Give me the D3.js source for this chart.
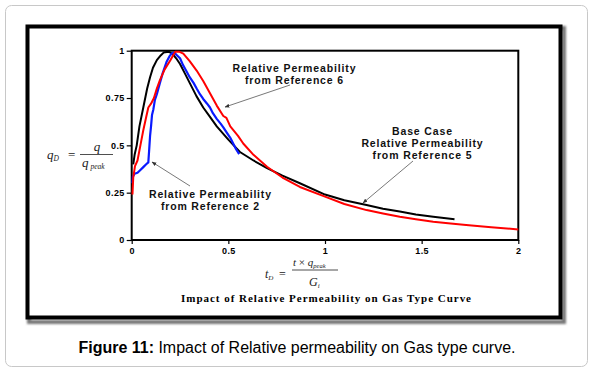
<!DOCTYPE html>
<html>
<head>
<meta charset="utf-8">
<script src="https://cdn.jsdelivr.net/npm/d3@7"></script>
<style>
  body { margin: 0; background: #fff; }
</style>
</head>
<body>
<svg width="594" height="371"></svg>
<script>
// data: (tD, qD) pairs
const baseT = [0.008, 0.015, 0.026, 0.04, 0.06, 0.08, 0.095, 0.11, 0.13, 0.15, 0.165, 0.19, 0.21, 0.23, 0.25, 0.275, 0.3, 0.335, 0.37, 0.405, 0.44, 0.5, 0.56, 0.63, 0.7, 0.78, 0.87, 1.0, 1.1, 1.215, 1.3, 1.387, 1.47, 1.56, 1.67];
const baseQ = [0.40, 0.45, 0.50, 0.60, 0.70, 0.80, 0.86, 0.91, 0.95, 0.975, 0.99, 0.995, 0.985, 0.96, 0.93, 0.88, 0.83, 0.76, 0.70, 0.65, 0.60, 0.53, 0.465, 0.42, 0.38, 0.34, 0.30, 0.24, 0.21, 0.185, 0.165, 0.15, 0.135, 0.123, 0.109];

const ref6T = [0.004, 0.008, 0.017, 0.03, 0.045, 0.06, 0.075, 0.086, 0.1, 0.115, 0.13, 0.146, 0.17, 0.2, 0.225, 0.245, 0.267, 0.3, 0.336, 0.37, 0.405, 0.44, 0.474, 0.49, 0.51, 0.55, 0.577, 0.63, 0.7, 0.78, 0.87, 1.0, 1.1, 1.215, 1.3, 1.387, 1.47, 1.56, 1.65, 1.73, 1.86, 2.0];
const ref6Q = [0.24, 0.33, 0.39, 0.42, 0.50, 0.58, 0.65, 0.70, 0.72, 0.75, 0.80, 0.845, 0.90, 0.95, 0.995, 0.995, 0.985, 0.945, 0.895, 0.84, 0.775, 0.71, 0.655, 0.645, 0.60, 0.55, 0.51, 0.45, 0.387, 0.33, 0.28, 0.229, 0.19, 0.158, 0.14, 0.123, 0.11, 0.097, 0.087, 0.079, 0.067, 0.056];

const ref2T = [0.004, 0.006, 0.015, 0.03, 0.045, 0.06, 0.075, 0.086, 0.09, 0.095, 0.1, 0.105, 0.112, 0.12, 0.13, 0.146, 0.16, 0.18, 0.195, 0.207, 0.22, 0.235, 0.25, 0.265, 0.284, 0.3, 0.32, 0.336, 0.353, 0.37, 0.39, 0.405, 0.42, 0.44, 0.46, 0.474, 0.49, 0.51, 0.525, 0.54, 0.556];
const ref2Q = [0.30, 0.335, 0.35, 0.355, 0.37, 0.385, 0.40, 0.41, 0.47, 0.55, 0.60, 0.66, 0.69, 0.74, 0.77, 0.83, 0.88, 0.94, 0.97, 0.985, 0.99, 0.975, 0.96, 0.925, 0.89, 0.86, 0.83, 0.80, 0.77, 0.745, 0.72, 0.70, 0.67, 0.64, 0.615, 0.595, 0.57, 0.54, 0.51, 0.48, 0.454];

const xTicks = [0, 0.5, 1, 1.5, 2];
const xTickLabels = ["0", "0.5", "1", "1.5", "2"];
const yTicks = [0, 0.25, 0.5, 0.75, 1];
const yTickLabels = ["0", "0.25", "0.5", "0.75", "1"];

const svg = d3.select("svg").attr("font-family", "Arial, 'Liberation Sans', sans-serif");

// outer card
svg.append("rect")
  .attr("x", 5.5).attr("y", 5.5)
  .attr("width", 582).attr("height", 361)
  .attr("rx", 6)
  .attr("fill", "#fff")
  .attr("stroke", "#c8c8c8");

// framed picture with shadow
const defs = svg.append("defs");
defs.append("filter").attr("id", "blur")
  .append("feGaussianBlur").attr("stdDeviation", 1.2);

svg.append("rect")
  .attr("x", 29).attr("y", 28)
  .attr("width", 535).attr("height", 294)
  .attr("fill", "none")
  .attr("stroke", "#777")
  .attr("stroke-width", 4)
  .attr("filter", "url(#blur)");

svg.append("rect")
  .attr("x", 27.5).attr("y", 26.5)
  .attr("width", 533).attr("height", 291)
  .attr("fill", "#fff")
  .attr("stroke", "#000")
  .attr("stroke-width", 4);

// plot area
const plotLeft = 131.7, plotRight = 518.3, plotTop = 50.7, plotBottom = 240;

const x = d3.scaleLinear().domain([0, 2]).range([plotLeft, plotRight]);
const y = d3.scaleLinear().domain([0, 1]).range([plotBottom, plotTop]);

const yAxis = svg.append("g")
  .attr("transform", `translate(${plotLeft},0)`)
  .call(d3.axisLeft(y).tickValues(yTicks).tickSize(5).tickPadding(2)
    .tickFormat((d, i) => yTickLabels[i]));
yAxis.select(".domain").remove();

const xAxis = svg.append("g")
  .attr("transform", `translate(0,${plotBottom})`)
  .call(d3.axisBottom(x).tickValues(xTicks).tickSize(4).tickPadding(4)
    .tickFormat((d, i) => xTickLabels[i]));
xAxis.select(".domain").remove();

svg.selectAll(".tick line").attr("stroke", "#000").attr("stroke-width", 1.2);
svg.selectAll(".tick text")
  .attr("font-family", "Arial, 'Liberation Sans', sans-serif")
  .attr("font-size", 9)
  .attr("font-weight", "bold")
  .attr("letter-spacing", 0.4)
  .attr("fill", "#000");

svg.append("rect")
  .attr("x", plotLeft).attr("y", plotTop)
  .attr("width", plotRight - plotLeft).attr("height", plotBottom - plotTop)
  .attr("fill", "none")
  .attr("stroke", "#000")
  .attr("stroke-width", 2);

// curves
const line = d3.line()
  .x((d) => x(d[0]))
  .y((d) => y(d[1]))
  .curve(d3.curveLinear);

const series = [
  { t: baseT, q: baseQ, color: "#000", w: 2 },
  { t: ref2T, q: ref2Q, color: "#0a1aff", w: 2.2 },
  { t: ref6T, q: ref6Q, color: "#ff0000", w: 2 },
];

svg.append("g")
  .attr("fill", "none")
  .selectAll("path")
  .data(series)
  .join("path")
  .attr("d", (s) => line(s.t.map((t, i) => [t, s.q[i]])))
  .attr("stroke", (s) => s.color)
  .attr("stroke-width", (s) => s.w)
  .attr("stroke-linejoin", "round");

// annotations
defs.append("marker")
  .attr("id", "head")
  .attr("viewBox", "0 0 10 10")
  .attr("refX", 9).attr("refY", 5)
  .attr("markerWidth", 6).attr("markerHeight", 6)
  .attr("orient", "auto")
  .append("path")
  .attr("d", "M0,1 L10,5 L0,9 z")
  .attr("fill", "#333");

const notes = [
  { lines: ["Relative Permeability", "from Reference 6"], widths: [123, 98], cx: 294, y0: 72, arrow: [290, 85, 225, 107] },
  { lines: ["Base Case", "Relative Permeability", "from Reference 5"], widths: [60, 121, 99], cx: 422, y0: 135, arrow: [413, 161, 363, 203] },
  { lines: ["Relative Permeability", "from Reference 2"], widths: [122, 98], cx: 210, y0: 198, arrow: [190, 186, 152, 162] },
];

notes.forEach((n) => {
  svg.append("line")
    .attr("x1", n.arrow[0]).attr("y1", n.arrow[1])
    .attr("x2", n.arrow[2]).attr("y2", n.arrow[3])
    .attr("stroke", "#555")
    .attr("stroke-width", 0.8)
    .attr("marker-end", "url(#head)");
  n.lines.forEach((l, i) => {
    svg.append("text")
      .attr("x", n.cx)
      .attr("y", n.y0 + i * 11.8)
      .attr("text-anchor", "middle")
      .attr("font-size", 10.5)
      .attr("font-weight", "bold")
      .attr("fill", "#111")
      .attr("textLength", n.widths[i])
      .attr("lengthAdjust", "spacing")
      .text(l);
  });
});

// axis formulas
const serif = "'Liberation Serif', 'DejaVu Serif', serif";
const fy = svg.append("g").attr("font-family", serif).attr("font-style", "italic").attr("fill", "#222");
fy.append("text").attr("x", 47).attr("y", 159).attr("font-size", 13)
  .text("q").append("tspan").attr("font-size", 7.5).attr("dy", 2).text("D");
fy.append("text").attr("x", 68).attr("y", 159).attr("font-size", 13).attr("font-style", "normal").text("=");
fy.append("line").attr("x1", 80).attr("x2", 113).attr("y1", 154.5).attr("y2", 154.5).attr("stroke", "#222").attr("stroke-width", 0.8);
fy.append("text").attr("x", 97).attr("y", 151).attr("font-size", 13).attr("text-anchor", "middle").text("q");
fy.append("text").attr("x", 82).attr("y", 167).attr("font-size", 13)
  .text("q").append("tspan").attr("font-size", 7.5).attr("dy", 2).text(" peak");

const fx = svg.append("g").attr("font-family", serif).attr("font-style", "italic").attr("fill", "#222");
fx.append("text").attr("x", 265).attr("y", 278).attr("font-size", 12)
  .text("t").append("tspan").attr("font-size", 7).attr("dy", 2).text("D");
fx.append("text").attr("x", 279).attr("y", 278).attr("font-size", 12).attr("font-style", "normal").text("=");
fx.append("line").attr("x1", 292).attr("x2", 338).attr("y1", 270).attr("y2", 270).attr("stroke", "#222").attr("stroke-width", 0.8);
const num = fx.append("text").attr("x", 293).attr("y", 266).attr("font-size", 11);
num.append("tspan").text("t ");
num.append("tspan").attr("font-style", "normal").text("× ");
num.append("tspan").text("q");
num.append("tspan").attr("font-size", 6.5).attr("dy", 2).text("peak");
fx.append("text").attr("x", 309).attr("y", 286).attr("font-size", 12)
  .text("G").append("tspan").attr("font-size", 7).attr("dy", 2).text("i");

// chart title inside frame
svg.append("text")
  .attr("x", 326).attr("y", 302)
  .attr("text-anchor", "middle")
  .attr("font-family", serif)
  .attr("font-weight", "bold")
  .attr("font-size", 11)
  .attr("textLength", 290)
  .attr("lengthAdjust", "spacing")
  .text("Impact of Relative Permeability on Gas Type Curve");

// figure caption
const cap = svg.append("text")
  .attr("x", 297).attr("y", 353)
  .attr("text-anchor", "middle")
  .attr("font-size", 16)
  .attr("fill", "#000")
  .attr("textLength", 437)
  .attr("lengthAdjust", "spacingAndGlyphs");
cap.append("tspan").attr("font-weight", "bold").text("Figure 11:");
cap.append("tspan").text(" Impact of Relative permeability on Gas type curve.");
</script>
</body>
</html>
